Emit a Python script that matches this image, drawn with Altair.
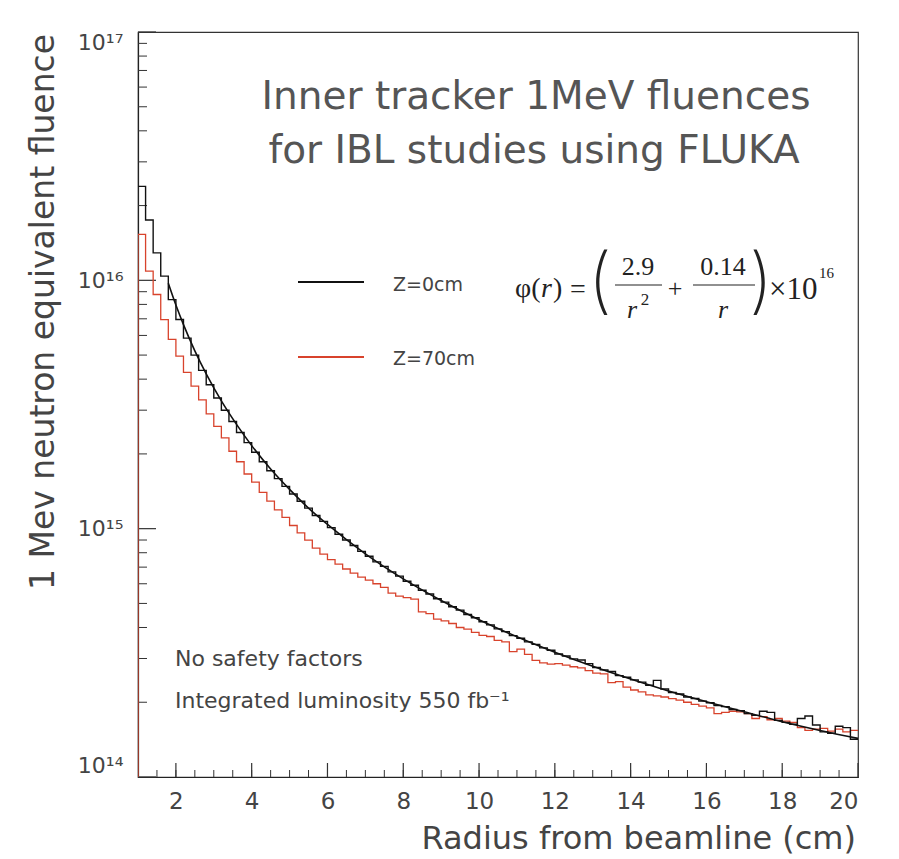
import altair as alt
import pandas as pd

# ---------------- data ----------------
BIN_LO = [round(1.0 + 0.2 * i, 1) for i in range(95)]   # 0.2 cm bins, 1..20 cm
R_MAX = 20.0
UNIT = 1e14

# Z = 0 cm histogram (units of 1e14)
Z0 = [
    239, 175, 129, 104, 83.6,
    69.5, 58.5, 50.0, 43.4, 38.0,
    33.6, 30.0, 27.0, 24.4, 22.2,
    20.3, 18.6, 17.1, 15.9, 14.8,
    13.8, 12.9, 12.1, 11.3, 10.7,
    10.1, 9.5, 9.0, 8.56, 8.10,
    7.74, 7.35, 7.05, 6.70, 6.44,
    6.14, 5.92, 5.65, 5.46, 5.22,
    5.06, 4.85, 4.70, 4.51, 4.38,
    4.22, 4.10, 3.95, 3.85, 3.71,
    3.62, 3.50, 3.42, 3.31, 3.24,
    3.13, 3.07, 2.99, 2.96, 2.86,
    2.76, 2.70, 2.66, 2.56, 2.52,
    2.46, 2.41, 2.34, 2.45, 2.26,
    2.19, 2.16, 2.10, 2.07, 2.02,
    1.99, 1.94, 1.92, 1.87, 1.85,
    1.80, 1.77, 1.84, 1.82, 1.69,
    1.66, 1.63, 1.72, 1.76, 1.62,
    1.52, 1.50, 1.60, 1.58, 1.42,
]

# Z = 70 cm histogram (units of 1e14)
Z70 = [
    153, 109, 87.7, 69.5, 57.8,
    49.5, 42.6, 37.5, 33.0, 29.0,
    25.8, 23.2, 20.5, 18.6, 16.6,
    15.4, 14.0, 12.9, 11.9, 11.1,
    10.3, 9.62, 9.0, 8.35, 7.90,
    7.50, 7.20, 6.88, 6.62, 6.38,
    6.20, 6.00, 5.80, 5.50, 5.35,
    5.28, 5.20, 4.62, 4.55, 4.32,
    4.25, 4.15, 4.00, 3.94, 3.82,
    3.72, 3.68, 3.55, 3.50, 3.20,
    3.27, 3.12, 2.95, 2.88, 2.85,
    2.86, 2.82, 2.78, 2.75, 2.68,
    2.62, 2.60, 2.40, 2.42, 2.30,
    2.24, 2.20, 2.14, 2.12, 2.10,
    2.07, 2.04, 2.00, 1.96, 1.93,
    1.90, 1.80, 1.82, 1.84, 1.83,
    1.80, 1.72, 1.75, 1.70, 1.72,
    1.68, 1.66, 1.58, 1.54, 1.56,
    1.57, 1.53, 1.56, 1.52, 1.54,
]

# smooth fitted curve (units of 1e14)
FIT_R = [1.8, 2.0, 2.2, 2.5, 2.8, 3.2, 3.6, 4.0, 4.5,
         5.0, 5.5, 6.0, 7.0, 8.0, 9.0, 10, 11, 12, 13, 14, 15, 16, 17, 18, 19, 20]
FIT_V = [97.3, 79.5, 66.3, 52.0, 42.0, 32.7, 26.3, 21.6, 17.4,
         14.4, 12.1, 10.4, 7.92, 6.28, 5.14, 4.30, 3.67, 3.18, 2.79, 2.48, 2.22, 2.01,
         1.83, 1.67, 1.54, 1.43]

X_LABELS = [2, 4, 6, 8, 10, 12, 14, 16, 18, 20]
X_MINOR = [1.5 + 0.5 * i for i in range(37)]
Y_MAJOR = [1e14, 1e15, 1e16, 1e17]
Y_MINOR = [m * 10 ** e for e in (14, 15, 16) for m in range(2, 10)]

W, H = 720, 745
FONT = "DejaVu Sans"
TXT = "#444444"
RED = "#d8432c"
BLACK = "#111111"


def hist_df(vals, from_floor):
    rows = [{"r": 1.0, "v": 1e14, "o": 0}] if from_floor else []
    for i, (lo, v) in enumerate(zip(BIN_LO, vals)):
        rows.append({"r": lo, "v": v * UNIT, "o": i + 1})
    rows.append({"r": R_MAX, "v": vals[-1] * UNIT, "o": len(vals) + 1})
    return pd.DataFrame(rows)


label_expr = ("'10' + (datum.value >= 5e16 ? '¹⁷' : datum.value >= 5e15 ? '¹⁶' : "
              "datum.value >= 5e14 ? '¹⁵' : '¹⁴')")

X_ENC = alt.X("r:Q", scale=alt.Scale(domain=[1, 20], nice=False, zero=False),
              axis=alt.Axis(values=X_LABELS, ticks=False, grid=False, title=None,
                            labelFont=FONT, labelFontSize=23, labelColor=TXT,
                            labelPadding=13, domainColor="#222", domainWidth=1.2))
Y_ENC = alt.Y("v:Q", scale=alt.Scale(type="log", domain=[1e14, 1e17], nice=False),
              axis=alt.Axis(values=Y_MAJOR, ticks=False, grid=False, title=None,
                            labelExpr=label_expr, labelFont=FONT, labelFontSize=22,
                            labelColor=TXT, labelPadding=15, labelFlush=True,
                            domainColor="#222", domainWidth=1.2))

# tick marks drawn inward
xminor = alt.Chart(pd.DataFrame({"r": X_MINOR})).mark_rule(color="#333", strokeWidth=1).encode(
    x=X_ENC, y=alt.value(H), y2=alt.value(H - 7))
xmajor = alt.Chart(pd.DataFrame({"r": X_LABELS})).mark_rule(color="#333", strokeWidth=1.2).encode(
    x=X_ENC, y=alt.value(H), y2=alt.value(H - 14))
yminor = alt.Chart(pd.DataFrame({"v": Y_MINOR})).mark_rule(color="#333", strokeWidth=1).encode(
    y=Y_ENC, x=alt.value(0), x2=alt.value(9))
ymajor = alt.Chart(pd.DataFrame({"v": Y_MAJOR})).mark_rule(color="#333", strokeWidth=1.2).encode(
    y=Y_ENC, x=alt.value(0), x2=alt.value(18))

red = alt.Chart(hist_df(Z70, True)).mark_line(
    interpolate="step-after", color=RED, strokeWidth=1.3, clip=True).encode(
    x=X_ENC, y=Y_ENC, order="o:Q")
black = alt.Chart(hist_df(Z0, False)).mark_line(
    interpolate="step-after", color=BLACK, strokeWidth=1.4, clip=True).encode(
    x=X_ENC, y=Y_ENC, order="o:Q")
fit = alt.Chart(pd.DataFrame({"r": FIT_R, "v": [v * UNIT for v in FIT_V]})).mark_line(
    interpolate="monotone", color=BLACK, strokeWidth=1.6, clip=True).encode(
    x=X_ENC, y=Y_ENC)


def txt(s, x, y, size, font=FONT, align="left", color=TXT, angle=0, style="normal", weight="normal"):
    return alt.Chart(pd.DataFrame({"t": [s]})).mark_text(
        align=align, baseline="middle", fontSize=size, font=font, color=color,
        angle=angle, fontStyle=style, fontWeight=weight).encode(
        x=alt.value(x), y=alt.value(y), text="t:N")


def seg(x1, x2, y, color, width):
    return alt.Chart(pd.DataFrame({"a": [0]})).mark_rule(color=color, strokeWidth=width).encode(
        x=alt.value(x1), x2=alt.value(x2), y=alt.value(y))


OX, OY = 138, 32  # plot origin in page pixels
SERIF = "Liberation Serif"
EQ = "#222222"
texts = [
    txt("Inner tracker 1MeV fluences", 536 - OX, 97 - OY, 39, align="center", color="#555"),
    txt("for IBL studies using FLUKA", 534 - OX, 151 - OY, 39, align="center", color="#555"),
    seg(298 - OX, 364 - OX, 282 - OY, BLACK, 2),
    txt("Z=0cm", 393 - OX, 285 - OY, 19),
    seg(298 - OX, 364 - OX, 357 - OY, RED, 2),
    txt("Z=70cm", 393 - OX, 359 - OY, 19),
    txt("φ(", 515 - OX, 289 - OY, 28, font=SERIF, color=EQ),
    txt("r", 541 - OX, 289 - OY, 28, font=SERIF, color=EQ, style="italic"),
    txt(")", 553 - OX, 289 - OY, 28, font=SERIF, color=EQ),
    txt("=", 578 - OX, 290 - OY, 28, font=SERIF, align="center", color=EQ),
    txt("(", 600 - OX, 283 - OY, 72, font="Inter", align="center", color=EQ, weight=200),
    txt("2.9", 638 - OX, 267 - OY, 26, font=SERIF, align="center", color=EQ),
    seg(615 - OX, 662 - OX, 285 - OY, EQ, 1.2),
    txt("r", 632 - OX, 310 - OY, 26, font=SERIF, align="center", color=EQ, style="italic"),
    txt("2", 645 - OX, 300 - OY, 17, font=SERIF, align="center", color=EQ),
    txt("+", 675 - OX, 289 - OY, 26, font=SERIF, align="center", color=EQ),
    txt("0.14", 723 - OX, 267 - OY, 26, font=SERIF, align="center", color=EQ),
    seg(693 - OX, 755 - OX, 285 - OY, EQ, 1.2),
    txt("r", 723 - OX, 310 - OY, 26, font=SERIF, align="center", color=EQ, style="italic"),
    txt(")", 761 - OX, 283 - OY, 72, font="Inter", align="center", color=EQ, weight=200),
    txt("×10", 769 - OX, 290 - OY, 31, font=SERIF, color=EQ),
    txt("16", 819 - OX, 273 - OY, 15, font=SERIF, color=EQ),
    txt("No safety factors", 175 - OX, 659 - OY, 22),
    txt("Integrated luminosity 550 fb⁻¹", 175 - OX, 701 - OY, 22),
    txt("1 Mev neutron equivalent fluence", 44 - OX, 312 - OY, 33, angle=270, align="center"),
    txt("Radius from beamline (cm)", 856 - OX, 839 - OY, 32, align="right"),
]

chart = alt.layer(xminor, xmajor, yminor, ymajor, red, black, fit, *texts).properties(
    width=W, height=H,
    autosize=alt.AutoSizeParams(type="none"),
    padding={"left": OX, "top": OY, "right": 899 - OX - W, "bottom": 859 - OY - H},
    background="white",
).configure_view(stroke="#333", strokeWidth=1.2)

chart.save("out.html", embed_options={"renderer": "svg", "actions": False})
